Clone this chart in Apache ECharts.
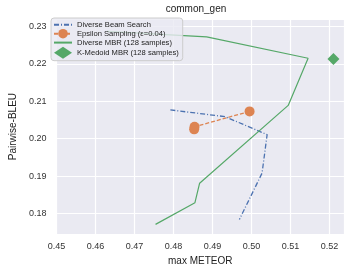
<!DOCTYPE html>
<html>
<head>
<meta charset="utf-8">
<script src="https://cdn.jsdelivr.net/npm/echarts@6/dist/echarts.min.js"></script>
<style>
  html, body { margin: 0; padding: 0; background: #fff; }
  #chart { width: 344px; height: 271px; }
</style>
</head>
<body>
<div id="chart"></div>
<script>
// [max METEOR, Pairwise-BLEU]
var beamSearch = [[0.4792, 0.2077], [0.4932, 0.2059], [0.5040, 0.2011], [0.5027, 0.1908], [0.4969, 0.1784]];
var epsilonSampling = [[0.4995, 0.2073], [0.4854, 0.2032], [0.4853, 0.2025]];
var diverseMbr = [[0.4754, 0.1771], [0.4855, 0.1829], [0.4867, 0.1881], [0.5094, 0.2089], [0.5145, 0.2215], [0.4885, 0.2272], [0.4630, 0.2287]];
var kMedoidMbr = [[0.5210, 0.2213]];
var seriesNames = ['Diverse Beam Search', 'Epsilon Sampling (\u03b5=0.04)', 'Diverse MBR (128 samples)', 'K-Medoid MBR (128 samples)'];

var font = 'Liberation Sans, Arial, sans-serif';
var chart = echarts.init(document.getElementById('chart'));

chart.setOption({
  animation: false,
  color: ['#4C72B0', '#DD8452', '#55A868', '#55A868'],
  title: {
    text: 'common_gen', left: 196, top: 4, padding: 0, textAlign: 'center',
    textStyle: {fontFamily: font, fontSize: 10, fontWeight: 'normal', color: '#222'}
  },
  grid: {left: 49, right: 0, top: 19, bottom: 31, containLabel: false, show: true, backgroundColor: '#EAEAF2', borderWidth: 0},
  legend: {
    orient: 'vertical', left: 51, top: 18,
    padding: [2, 4, 2, 2], itemWidth: 18, itemHeight: 12, itemGap: -0.7,
    backgroundColor: 'rgba(234,234,242,0.8)', borderColor: '#cccccc', borderWidth: 1, borderRadius: 3,
    textStyle: {fontFamily: font, fontSize: 7.6, color: '#222'},
    data: [
      {name: seriesNames[0], itemStyle: {opacity: 0}},
      {name: seriesNames[1]},
      {name: seriesNames[2], itemStyle: {opacity: 0}},
      {name: seriesNames[3]}
    ]
  },
  xAxis: {
    type: 'value', min: 0.45, max: 0.5237, interval: 0.01,
    name: 'max METEOR', nameLocation: 'middle', nameGap: 20,
    nameTextStyle: {fontFamily: font, fontSize: 10, color: '#222'},
    axisLine: {show: false}, axisTick: {show: false},
    splitLine: {lineStyle: {color: '#fff', width: 1.2}},
    axisLabel: {fontFamily: font, fontSize: 9, color: '#333', margin: 8, showMaxLabel: false,
      formatter: function (v) { return v.toFixed(2); }}
  },
  yAxis: {
    type: 'value', min: 0.1745, max: 0.232,
    name: 'Pairwise-BLEU', nameLocation: 'middle', nameGap: 31,
    nameTextStyle: {fontFamily: font, fontSize: 10, color: '#222'},
    axisLine: {show: false}, axisTick: {show: false},
    splitLine: {lineStyle: {color: '#fff', width: 1.2}},
    axisLabel: {fontFamily: font, fontSize: 9, color: '#333', margin: 10, showMinLabel: false, showMaxLabel: false,
      formatter: function (v) { return v.toFixed(2); }}
  },
  series: [
    {name: seriesNames[0], type: 'line', data: beamSearch, symbol: 'none',
      lineStyle: {width: 1.3, type: [5, 2, 1, 2]}},
    {name: seriesNames[1], type: 'line', data: epsilonSampling, symbol: 'circle', symbolSize: 10,
      lineStyle: {width: 1.3, type: [4, 2]}},
    {name: seriesNames[2], type: 'line', data: diverseMbr, symbol: 'none',
      lineStyle: {width: 1.2}},
    {name: seriesNames[3], type: 'scatter', data: kMedoidMbr, symbol: 'diamond', symbolSize: 12,
      itemStyle: {opacity: 1}}
  ]
});
</script>
</body>
</html>
